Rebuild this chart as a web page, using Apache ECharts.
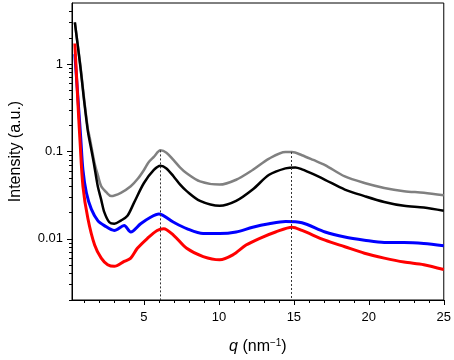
<!DOCTYPE html>
<html>
<head>
<meta charset="utf-8">
<script src="https://cdn.jsdelivr.net/npm/echarts@6/dist/echarts.min.js"></script>
<style>
  html, body { margin: 0; padding: 0; background: #fff; }
  #chart { width: 454px; height: 360px; }
</style>
</head>
<body>
<div id="chart"></div>
<script>
// q in nm^-1, intensity in a.u.
const grayQ = [0.39, 0.76, 0.98, 1.26, 1.38, 1.71, 1.92, 2.15, 2.5, 2.81, 3.46, 4.12, 4.6, 5.0, 5.3, 5.66, 6.1, 6.5, 6.98, 7.4, 7.85, 8.74, 10.05, 11.15, 12.25, 13.35, 14.44, 14.88, 15.54, 16.3, 17.08, 18.4, 19.71, 21.03, 22.35, 23.67, 25];
const grayI = [3.0, 0.96, 0.44, 0.18, 0.145, 0.073, 0.054, 0.040, 0.034, 0.0309, 0.0337, 0.040, 0.049, 0.0615, 0.075, 0.0868, 0.1031, 0.097, 0.0796, 0.066, 0.0564, 0.0455, 0.0418, 0.0475, 0.0615, 0.083, 0.0987, 0.0987, 0.0907, 0.080, 0.070, 0.0518, 0.0436, 0.0383, 0.0352, 0.0337, 0.0315];

const blackQ = [0.39, 0.76, 0.98, 1.26, 1.49, 1.66, 1.92, 2.15, 2.36, 2.69, 3.02, 3.46, 3.9, 4.34, 5.0, 5.66, 6.1, 6.5, 6.98, 7.4, 7.85, 8.74, 10.05, 11.15, 12.25, 13.35, 14.44, 15.1, 15.54, 16.3, 17.08, 18.4, 19.71, 21.03, 22.35, 23.67, 25];
const blackI = [3.0, 0.93, 0.42, 0.17, 0.105, 0.073, 0.040, 0.028, 0.0201, 0.0155, 0.0149, 0.0162, 0.0184, 0.026, 0.0436, 0.0615, 0.0688, 0.064, 0.0518, 0.042, 0.0352, 0.0272, 0.0239, 0.0272, 0.0367, 0.0541, 0.0641, 0.0658, 0.0625, 0.055, 0.0475, 0.0367, 0.0309, 0.0265, 0.0239, 0.0229, 0.021];

const blueQ = [0.39, 0.52, 0.65, 0.78, 0.93, 1.16, 1.49, 1.92, 2.36, 3.02, 3.68, 4.12, 4.78, 5.44, 5.99, 6.98, 7.85, 8.95, 10.05, 11.15, 12.25, 13.35, 14.44, 15.54, 17.08, 18.4, 19.71, 21.03, 22.35, 23.67, 25];
const blueI = [1.3, 0.627, 0.302, 0.1455, 0.0615, 0.0337, 0.0219, 0.0162, 0.0142, 0.0125, 0.0142, 0.012, 0.0149, 0.0177, 0.0193, 0.0155, 0.0131, 0.0115, 0.0115, 0.012, 0.0136, 0.0149, 0.0158, 0.0153, 0.012, 0.0105, 0.00967, 0.00912, 0.00912, 0.00888, 0.00835];

const redQ = [0.39, 0.52, 0.65, 0.72, 0.93, 1.26, 1.71, 2.15, 2.58, 3.02, 3.68, 4.12, 4.56, 5.22, 5.88, 6.32, 6.98, 7.85, 8.95, 10.05, 10.93, 11.81, 12.69, 13.78, 14.88, 15.54, 17.08, 18.4, 19.71, 21.03, 22.35, 23.67, 25];
const redI = [1.72, 0.638, 0.238, 0.1455, 0.040, 0.0171, 0.0085, 0.00603, 0.00507, 0.00485, 0.00552, 0.00603, 0.0078, 0.0101, 0.0125, 0.0131, 0.011, 0.0078, 0.00628, 0.00577, 0.00656, 0.0085, 0.0101, 0.012, 0.0136, 0.0125, 0.00967, 0.00813, 0.00686, 0.00603, 0.00543, 0.00507, 0.00446];

// dotted guide lines at the two correlation peaks
const peakQ = [6.1, 14.84];
const peakI = [0.103, 0.0987];

const xMajor = [5, 10, 15, 20, 25];
const xMinor = [1, 2, 3, 4, 6, 7, 8, 9, 11, 12, 13, 14, 16, 17, 18, 19, 21, 22, 23, 24];
const yMajor = [0.01, 0.1, 1];
const yMinor = [0.002, 0.003, 0.004, 0.005, 0.006, 0.007, 0.008, 0.009,
  0.02, 0.03, 0.04, 0.05, 0.06, 0.07, 0.08, 0.09,
  0.2, 0.3, 0.4, 0.5, 0.6, 0.7, 0.8, 0.9, 2, 3, 4];

const xMin = 0.2, xMax = 25, yMin = 0.002, yMax = 5;

function pairs(q, v) {
  return q.map(function (x, i) { return [x, v[i]]; });
}

let chartDom = document.getElementById('chart');
let myChart = echarts.init(chartDom, null, { renderer: 'canvas' });

const font = 'Liberation Sans, Arial, sans-serif';

let option = {
  animation: false,
  backgroundColor: '#fff',
  grid: {
    left: 67, right: 10, top: 3, bottom: 54,
    show: true, borderColor: '#000', borderWidth: 1, backgroundColor: 'transparent'
  },
  xAxis: [{
    type: 'value', min: xMin, max: xMax,
    axisLine: { show: true, lineStyle: { color: '#000', width: 1 } },
    axisTick: { show: true, inside: false, length: 5, customValues: xMajor, lineStyle: { color: '#000' } },
    axisLabel: { customValues: xMajor, color: '#000', fontSize: 13, fontFamily: font, margin: 11 },
    splitLine: { show: false },
    name: '{i|q} (nm{s|\u22121})',
    nameLocation: 'middle',
    nameGap: 38,
    nameTextStyle: {
      color: '#000', fontSize: 16, fontFamily: font,
      rich: {
        i: { fontStyle: 'italic', fontSize: 16, fontFamily: font, color: '#000' },
        s: { fontSize: 10, fontFamily: font, color: '#000', verticalAlign: 'top', padding: [0, 0, 8, 0] }
      }
    }
  }, {
    type: 'value', min: xMin, max: xMax, position: 'bottom',
    axisLine: { show: false },
    axisTick: { show: true, inside: false, length: 3, customValues: xMinor, lineStyle: { color: '#000' } },
    axisLabel: { show: false },
    splitLine: { show: false }
  }],
  yAxis: [{
    type: 'log', logBase: 10, min: yMin, max: yMax,
    axisLine: { show: true, lineStyle: { color: '#000', width: 1 } },
    axisTick: { show: true, inside: false, length: 5, customValues: yMajor, lineStyle: { color: '#000' } },
    axisLabel: {
      customValues: yMajor, color: '#000', fontSize: 13, fontFamily: font, margin: 9,
      formatter: function (v) { return String(+v.toPrecision(3)); }
    },
    splitLine: { show: false },
    minorTick: { show: false },
    name: 'Intensity (a.u.)',
    nameLocation: 'middle',
    nameGap: 48,
    nameTextStyle: { color: '#000', fontSize: 16, fontFamily: font }
  }, {
    type: 'log', logBase: 10, min: yMin, max: yMax, position: 'left',
    axisLine: { show: false },
    axisTick: { show: true, inside: false, length: 3, customValues: yMinor, lineStyle: { color: '#000' } },
    axisLabel: { show: false },
    splitLine: { show: false }
  }],
  series: [
    {
      name: 'gray', type: 'line', xAxisIndex: 0, yAxisIndex: 0,
      showSymbol: false, smooth: 0.3,
      lineStyle: { color: '#808080', width: 2.5 },
      itemStyle: { color: '#808080' },
      data: pairs(grayQ, grayI),
      markLine: {
        silent: true, symbol: 'none', label: { show: false },
        lineStyle: { color: '#333', width: 1, type: [2, 2] },
        data: peakQ.map(function (q, i) {
          return [{ coord: [q, peakI[i]] }, { coord: [q, yMin] }];
        })
      }
    },
    {
      name: 'black', type: 'line', xAxisIndex: 0, yAxisIndex: 0,
      showSymbol: false, smooth: 0.3,
      lineStyle: { color: '#000', width: 2.5 },
      itemStyle: { color: '#000' },
      data: pairs(blackQ, blackI)
    },
    {
      name: 'blue', type: 'line', xAxisIndex: 0, yAxisIndex: 0,
      showSymbol: false, smooth: 0.3,
      lineStyle: { color: '#0000ff', width: 3 },
      itemStyle: { color: '#0000ff' },
      data: pairs(blueQ, blueI)
    },
    {
      name: 'red', type: 'line', xAxisIndex: 0, yAxisIndex: 0,
      showSymbol: false, smooth: 0.3,
      lineStyle: { color: '#ff0000', width: 3 },
      itemStyle: { color: '#ff0000' },
      data: pairs(redQ, redI)
    }
  ]
};

option && myChart.setOption(option);
</script>
</body>
</html>
